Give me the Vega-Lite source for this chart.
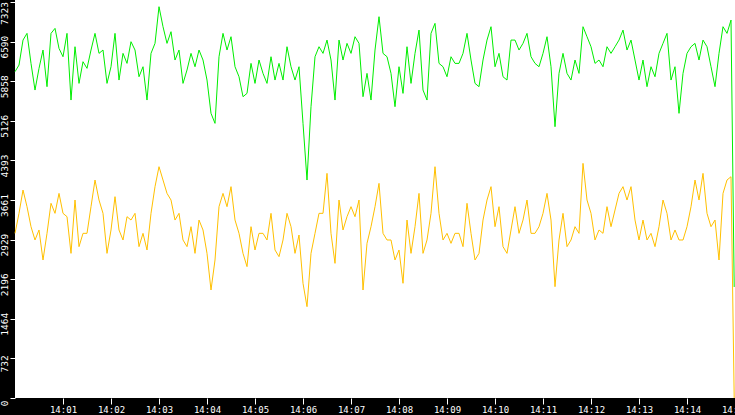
{
  "$schema": "https://vega.github.io/schema/vega-lite/v6.json",
  "width": 720,
  "height": 398,
  "autosize": "none",
  "padding": {"left": 15, "top": 0, "right": 0, "bottom": 17},
  "background": "black",
  "view": {"fill": "white", "stroke": null},
  "config": {
    "axis": {
      "grid": false,
      "domain": false,
      "title": null,
      "tickColor": "white",
      "labelColor": "white",
      "labelFont": "DejaVu Sans Mono",
      "labelOverlap": false,
      "labelBound": false,
      "labelFlush": false
    },
    "axisY": {
      "tickSize": 5,
      "labelAngle": 270,
      "labelAlign": "center",
      "labelBaseline": "bottom",
      "labelPadding": 1,
      "labelFontSize": 9.5
    }
  },
  "data": {
    "values": [
      {"sec": 0, "upper": 6034, "lower": 3045},
      {"sec": 5, "upper": 6157, "lower": 3415},
      {"sec": 10, "upper": 6619, "lower": 3846},
      {"sec": 15, "upper": 6743, "lower": 3538},
      {"sec": 20, "upper": 6188, "lower": 3168},
      {"sec": 25, "upper": 5695, "lower": 2922},
      {"sec": 30, "upper": 6096, "lower": 3107},
      {"sec": 35, "upper": 6435, "lower": 2552},
      {"sec": 40, "upper": 5757, "lower": 3045},
      {"sec": 45, "upper": 6743, "lower": 3600},
      {"sec": 50, "upper": 6835, "lower": 3415},
      {"sec": 55, "upper": 6465, "lower": 3784},
      {"sec": 60, "upper": 6311, "lower": 3415},
      {"sec": 65, "upper": 6743, "lower": 3353},
      {"sec": 70, "upper": 5510, "lower": 2675},
      {"sec": 75, "upper": 6496, "lower": 3661},
      {"sec": 80, "upper": 5818, "lower": 2799},
      {"sec": 85, "upper": 6219, "lower": 3045},
      {"sec": 90, "upper": 6096, "lower": 3045},
      {"sec": 95, "upper": 6435, "lower": 3538},
      {"sec": 100, "upper": 6743, "lower": 4031},
      {"sec": 105, "upper": 6373, "lower": 3661},
      {"sec": 110, "upper": 6435, "lower": 3415},
      {"sec": 115, "upper": 5818, "lower": 2675},
      {"sec": 120, "upper": 6126, "lower": 3107},
      {"sec": 125, "upper": 6743, "lower": 3723},
      {"sec": 130, "upper": 5880, "lower": 3107},
      {"sec": 135, "upper": 6373, "lower": 2922},
      {"sec": 140, "upper": 6188, "lower": 3353},
      {"sec": 145, "upper": 6589, "lower": 3291},
      {"sec": 150, "upper": 6435, "lower": 3415},
      {"sec": 155, "upper": 5941, "lower": 2799},
      {"sec": 160, "upper": 6126, "lower": 3045},
      {"sec": 165, "upper": 5510, "lower": 2737},
      {"sec": 170, "upper": 6373, "lower": 3415},
      {"sec": 175, "upper": 6558, "lower": 3908},
      {"sec": 180, "upper": 7236, "lower": 4277},
      {"sec": 185, "upper": 6866, "lower": 4031},
      {"sec": 190, "upper": 6558, "lower": 3784},
      {"sec": 195, "upper": 6774, "lower": 3661},
      {"sec": 200, "upper": 6250, "lower": 3291},
      {"sec": 205, "upper": 6435, "lower": 3415},
      {"sec": 210, "upper": 5818, "lower": 2922},
      {"sec": 215, "upper": 6065, "lower": 2799},
      {"sec": 220, "upper": 6373, "lower": 3168},
      {"sec": 225, "upper": 6126, "lower": 2675},
      {"sec": 230, "upper": 6435, "lower": 3291},
      {"sec": 235, "upper": 6250, "lower": 3107},
      {"sec": 240, "upper": 5880, "lower": 2675},
      {"sec": 245, "upper": 5264, "lower": 1997},
      {"sec": 250, "upper": 5079, "lower": 2552},
      {"sec": 255, "upper": 6311, "lower": 3538},
      {"sec": 260, "upper": 6743, "lower": 3784},
      {"sec": 265, "upper": 6435, "lower": 3538},
      {"sec": 270, "upper": 6681, "lower": 3908},
      {"sec": 275, "upper": 6126, "lower": 3291},
      {"sec": 280, "upper": 5941, "lower": 3045},
      {"sec": 285, "upper": 5572, "lower": 2675},
      {"sec": 290, "upper": 5633, "lower": 2429},
      {"sec": 295, "upper": 6188, "lower": 3168},
      {"sec": 300, "upper": 5818, "lower": 2737},
      {"sec": 305, "upper": 6250, "lower": 3045},
      {"sec": 310, "upper": 6003, "lower": 3045},
      {"sec": 315, "upper": 5818, "lower": 2922},
      {"sec": 320, "upper": 6311, "lower": 3415},
      {"sec": 325, "upper": 5880, "lower": 2737},
      {"sec": 330, "upper": 6188, "lower": 2614},
      {"sec": 335, "upper": 5880, "lower": 2922},
      {"sec": 340, "upper": 6496, "lower": 3415},
      {"sec": 345, "upper": 6126, "lower": 3168},
      {"sec": 350, "upper": 5880, "lower": 2675},
      {"sec": 355, "upper": 6126, "lower": 3014},
      {"sec": 360, "upper": 5079, "lower": 2121},
      {"sec": 365, "upper": 4031, "lower": 1689},
      {"sec": 370, "upper": 5387, "lower": 2675},
      {"sec": 375, "upper": 6311, "lower": 3045},
      {"sec": 380, "upper": 6496, "lower": 3415},
      {"sec": 385, "upper": 6373, "lower": 3415},
      {"sec": 390, "upper": 6619, "lower": 4154},
      {"sec": 395, "upper": 6250, "lower": 3045},
      {"sec": 400, "upper": 5510, "lower": 2490},
      {"sec": 405, "upper": 6619, "lower": 3661},
      {"sec": 410, "upper": 6250, "lower": 3107},
      {"sec": 415, "upper": 6558, "lower": 3353},
      {"sec": 420, "upper": 6373, "lower": 3538},
      {"sec": 425, "upper": 6681, "lower": 3353},
      {"sec": 430, "upper": 6558, "lower": 3661},
      {"sec": 435, "upper": 5572, "lower": 1997},
      {"sec": 440, "upper": 6003, "lower": 2860},
      {"sec": 445, "upper": 5510, "lower": 3168},
      {"sec": 450, "upper": 6435, "lower": 3538},
      {"sec": 455, "upper": 7051, "lower": 3969},
      {"sec": 460, "upper": 6373, "lower": 3045},
      {"sec": 465, "upper": 6311, "lower": 2922},
      {"sec": 470, "upper": 6003, "lower": 2922},
      {"sec": 475, "upper": 5387, "lower": 2552},
      {"sec": 480, "upper": 6126, "lower": 2737},
      {"sec": 485, "upper": 5633, "lower": 2121},
      {"sec": 490, "upper": 6496, "lower": 3291},
      {"sec": 495, "upper": 5818, "lower": 2675},
      {"sec": 500, "upper": 6373, "lower": 3168},
      {"sec": 505, "upper": 6804, "lower": 3784},
      {"sec": 510, "upper": 5695, "lower": 2675},
      {"sec": 515, "upper": 5510, "lower": 2922},
      {"sec": 520, "upper": 6743, "lower": 3415},
      {"sec": 525, "upper": 6928, "lower": 4277},
      {"sec": 530, "upper": 6188, "lower": 3415},
      {"sec": 535, "upper": 6126, "lower": 2922},
      {"sec": 540, "upper": 5941, "lower": 3045},
      {"sec": 545, "upper": 6311, "lower": 2860},
      {"sec": 550, "upper": 6188, "lower": 3045},
      {"sec": 555, "upper": 6188, "lower": 3045},
      {"sec": 560, "upper": 6373, "lower": 2799},
      {"sec": 565, "upper": 6743, "lower": 3600},
      {"sec": 570, "upper": 6250, "lower": 3045},
      {"sec": 575, "upper": 5818, "lower": 2552},
      {"sec": 580, "upper": 5757, "lower": 2675},
      {"sec": 585, "upper": 6250, "lower": 3291},
      {"sec": 590, "upper": 6619, "lower": 3661},
      {"sec": 595, "upper": 6866, "lower": 3908},
      {"sec": 600, "upper": 6126, "lower": 3168},
      {"sec": 605, "upper": 6373, "lower": 3538},
      {"sec": 610, "upper": 5941, "lower": 2799},
      {"sec": 615, "upper": 5880, "lower": 2675},
      {"sec": 620, "upper": 6619, "lower": 3107},
      {"sec": 625, "upper": 6619, "lower": 3538},
      {"sec": 630, "upper": 6435, "lower": 3045},
      {"sec": 635, "upper": 6558, "lower": 3291},
      {"sec": 640, "upper": 6743, "lower": 3661},
      {"sec": 645, "upper": 6311, "lower": 3045},
      {"sec": 650, "upper": 6188, "lower": 3045},
      {"sec": 655, "upper": 6126, "lower": 3168},
      {"sec": 660, "upper": 6373, "lower": 3415},
      {"sec": 665, "upper": 6681, "lower": 3784},
      {"sec": 670, "upper": 6126, "lower": 3291},
      {"sec": 675, "upper": 5017, "lower": 2059},
      {"sec": 680, "upper": 6003, "lower": 2922},
      {"sec": 685, "upper": 6373, "lower": 3415},
      {"sec": 690, "upper": 6003, "lower": 2799},
      {"sec": 695, "upper": 5880, "lower": 2922},
      {"sec": 700, "upper": 6250, "lower": 3168},
      {"sec": 705, "upper": 6003, "lower": 3045},
      {"sec": 710, "upper": 6866, "lower": 4339},
      {"sec": 715, "upper": 6681, "lower": 3661},
      {"sec": 720, "upper": 6496, "lower": 3415},
      {"sec": 725, "upper": 6188, "lower": 2922},
      {"sec": 730, "upper": 6250, "lower": 3107},
      {"sec": 735, "upper": 6126, "lower": 3045},
      {"sec": 740, "upper": 6496, "lower": 3538},
      {"sec": 745, "upper": 6373, "lower": 3168},
      {"sec": 750, "upper": 6496, "lower": 3476},
      {"sec": 755, "upper": 6619, "lower": 3784},
      {"sec": 760, "upper": 6804, "lower": 3908},
      {"sec": 765, "upper": 6435, "lower": 3661},
      {"sec": 770, "upper": 6619, "lower": 3908},
      {"sec": 775, "upper": 6250, "lower": 3291},
      {"sec": 780, "upper": 5880, "lower": 2922},
      {"sec": 785, "upper": 6250, "lower": 3291},
      {"sec": 790, "upper": 5757, "lower": 2922},
      {"sec": 795, "upper": 6126, "lower": 3045},
      {"sec": 800, "upper": 5941, "lower": 2799},
      {"sec": 805, "upper": 6373, "lower": 3168},
      {"sec": 810, "upper": 6558, "lower": 3661},
      {"sec": 815, "upper": 6743, "lower": 3415},
      {"sec": 820, "upper": 5880, "lower": 2922},
      {"sec": 825, "upper": 6126, "lower": 3107},
      {"sec": 830, "upper": 5264, "lower": 2922},
      {"sec": 835, "upper": 6003, "lower": 2922},
      {"sec": 840, "upper": 6373, "lower": 3168},
      {"sec": 845, "upper": 6496, "lower": 3538},
      {"sec": 850, "upper": 6558, "lower": 4031},
      {"sec": 855, "upper": 6250, "lower": 3661},
      {"sec": 860, "upper": 6619, "lower": 4154},
      {"sec": 865, "upper": 6496, "lower": 3415},
      {"sec": 870, "upper": 6126, "lower": 3168},
      {"sec": 875, "upper": 5757, "lower": 3291},
      {"sec": 880, "upper": 6373, "lower": 2552},
      {"sec": 885, "upper": 6866, "lower": 3784},
      {"sec": 890, "upper": 6743, "lower": 4031},
      {"sec": 895, "upper": 6989, "lower": 4092},
      {"sec": 899, "upper": 2053, "lower": 0}
    ]
  },
  "encoding": {
    "x": {
      "field": "sec",
      "type": "quantitative",
      "scale": {"domain": [0, 900], "nice": false, "zero": false},
      "axis": {
        "values": [60, 120, 180, 240, 300, 360, 420, 480, 540, 600, 660, 720, 780, 840, 900],
        "labelExpr": "'14:' + (datum.value < 600 ? '0' : '') + (datum.value / 60)",
        "tickSize": 6,
        "labelPadding": 1,
        "labelFontSize": 9
      }
    }
  },
  "layer": [
    {
      "mark": {"type": "line", "color": "#ffc000", "strokeWidth": 1},
      "encoding": {
        "y": {
          "field": "lower",
          "type": "quantitative",
          "scale": {"domain": [0, 7360], "nice": false},
          "axis": {
            "values": [0, 732, 1464, 2196, 2929, 3661, 4393, 5126, 5858, 6590, 7323],
            "format": "d",
            "labelOverlap": false,
            "labelOffset": {"condition": {"test": "datum.value == 7323", "value": 11}, "value": 5}
          }
        }
      }
    },
    {
      "mark": {"type": "line", "color": "#00ee00", "strokeWidth": 1},
      "encoding": {
        "y": {
          "field": "upper",
          "type": "quantitative",
          "axis": {
            "values": [0, 732, 1464, 2196, 2929, 3661, 4393, 5126, 5858, 6590, 7323],
            "format": "d",
            "labelOverlap": false,
            "labelOffset": {"condition": {"test": "datum.value == 7323", "value": 11}, "value": 5}
          }
        }
      }
    }
  ]
}
